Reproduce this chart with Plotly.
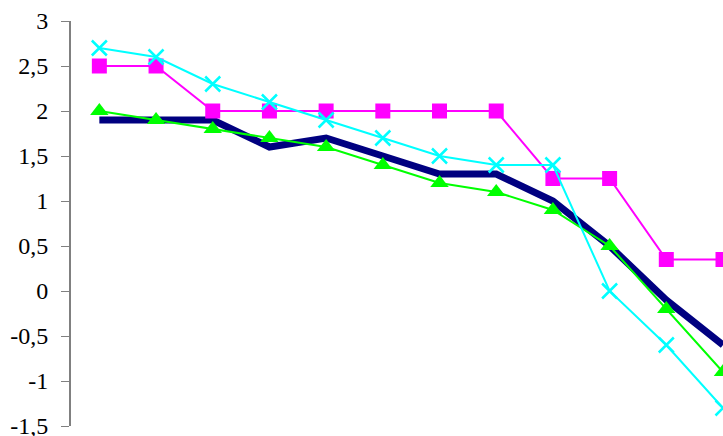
import plotly.graph_objects as go

# Twelve ordered periods (not labelled on the axis)
periods = ["1", "2", "3", "4", "5", "6", "7", "8", "9", "10", "11", "12"]

series_navy = [1.9, 1.9, 1.9, 1.6, 1.7, 1.5, 1.3, 1.3, 1.0, 0.5, -0.1, -0.6]
series_magenta = [2.5, 2.5, 2.0, 2.0, 2.0, 2.0, 2.0, 2.0, 1.25, 1.25, 0.35, 0.35]
series_green = [2.0, 1.9, 1.8, 1.7, 1.6, 1.4, 1.2, 1.1, 0.9, 0.5, -0.2, -0.9]
series_cyan = [2.7, 2.6, 2.3, 2.1, 1.9, 1.7, 1.5, 1.4, 1.4, 0.0, -0.6, -1.3]

y_ticks = [-1.5, -1, -0.5, 0, 0.5, 1, 1.5, 2, 2.5, 3]
y_tick_text = ["-1,5", "-1", "-0,5", "0", "0,5", "1", "1,5", "2", "2,5", "3"]

serif = "'Liberation Serif', 'DejaVu Serif', serif"

fig = go.Figure()

fig.add_trace(go.Scatter(
    x=periods, y=series_navy, mode="lines",
    line=dict(color="#000080", width=7),
))
fig.add_trace(go.Scatter(
    x=periods, y=series_magenta, mode="lines+markers",
    line=dict(color="#FF00FF", width=2),
    marker=dict(symbol="square", size=15, color="#FF00FF"),
))
fig.add_trace(go.Scatter(
    x=periods, y=series_green, mode="lines+markers",
    line=dict(color="#00FF00", width=2),
    marker=dict(symbol="triangle-up", size=16, color="#00FF00"),
))
fig.add_trace(go.Scatter(
    x=periods, y=series_cyan, mode="lines+markers",
    line=dict(color="#00FFFF", width=2),
    marker=dict(symbol="x-thin-open", size=15, color="#00FFFF",
                line=dict(color="#00FFFF", width=2.5)),
))

fig.update_layout(
    width=723, height=436,
    margin=dict(l=71, r=0, t=21, b=10, autoexpand=False),
    paper_bgcolor="white", plot_bgcolor="white",
    showlegend=False,
    font=dict(family=serif, size=24, color="black"),
)
fig.update_xaxes(
    type="category", range=[-0.5, 11.0],
    showticklabels=False, showgrid=False, zeroline=False,
    showline=False, ticks="",
)
fig.update_yaxes(
    range=[-1.5, 3], tickmode="array", tickvals=y_ticks, ticktext=y_tick_text,
    tickfont=dict(family=serif, size=24, color="black"),
    showgrid=False, zeroline=False, automargin=False,
    showline=True, linecolor="#808080", linewidth=2,
    ticks="outside", ticklen=8, tickcolor="#808080", tickwidth=1,
    ticklabelstandoff=8, ticklabeloverflow="allow",
)
fig.update_traces(cliponaxis=False)

fig.write_html("out.html")
